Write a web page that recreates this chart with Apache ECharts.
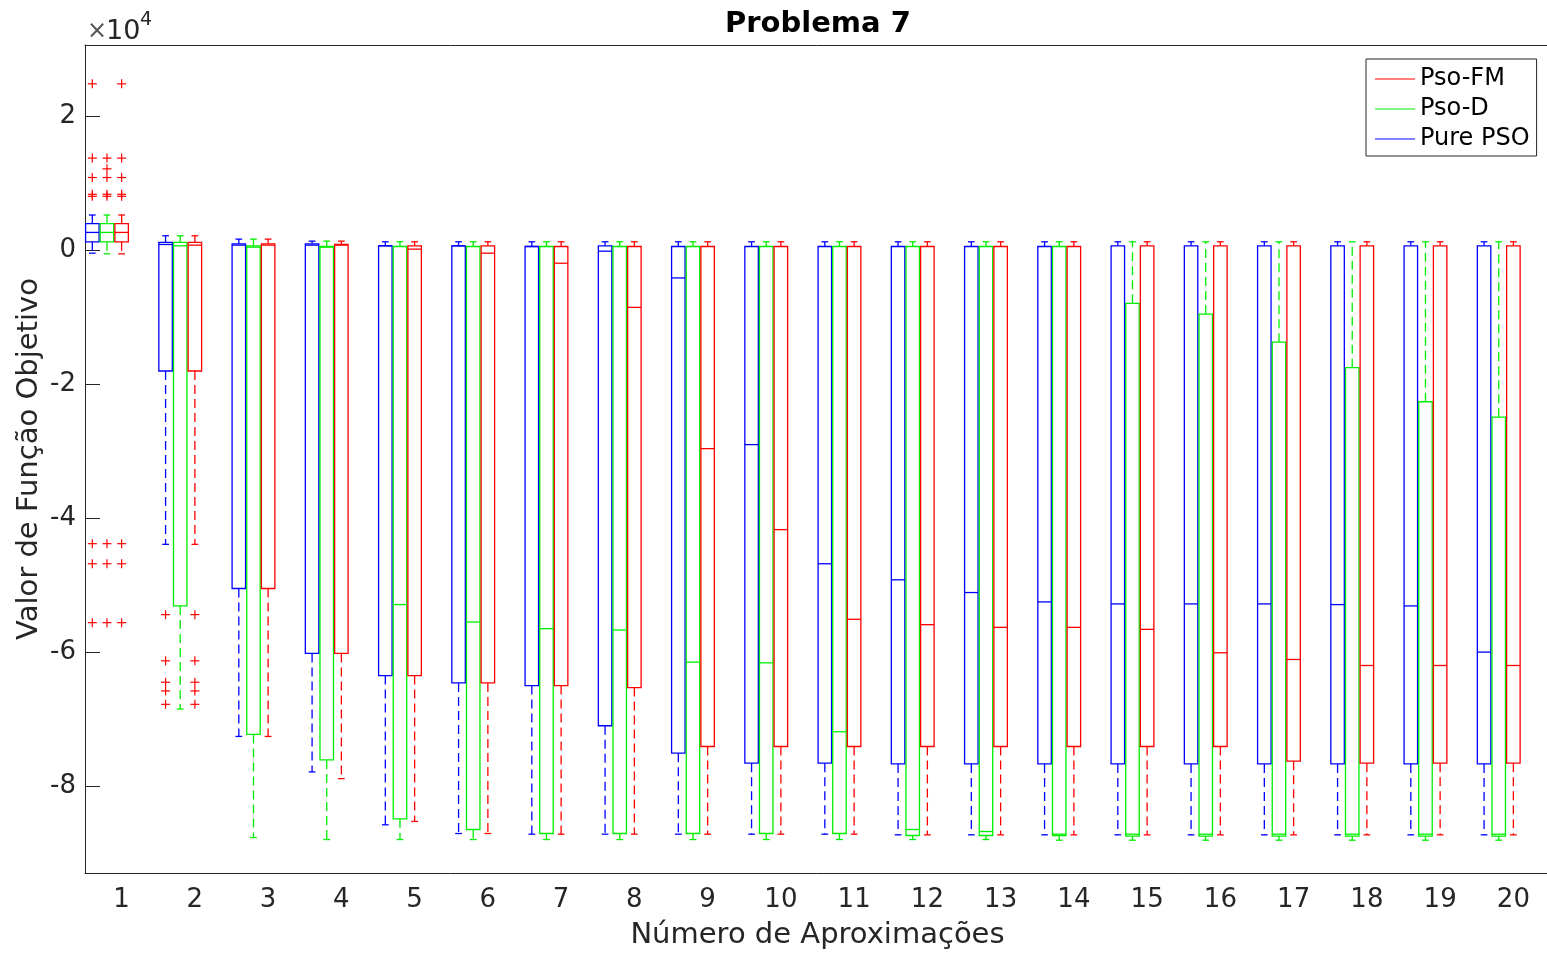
<!DOCTYPE html>
<html>
<head>
<meta charset="utf-8">
<title>Problema 7</title>
<script src="https://cdn.jsdelivr.net/npm/echarts@6.0.0/dist/echarts.min.js"></script>
<style>
  html, body { margin: 0; padding: 0; background: #fff; }
  #chart { width: 1547px; height: 954px; }
</style>
</head>
<body>
<div id="chart"></div>
<script>
const categories = ['1', '2', '3', '4', '5', '6', '7', '8', '9', '10',
  '11', '12', '13', '14', '15', '16', '17', '18', '19', '20'];
const yTicks = [-8, -6, -4, -2, 0, 2];

// valores em x10^4: [bigode inferior, Q1, mediana, Q3, bigode superior]
const purePso = [
  [-0.04, 0.13, 0.27, 0.40, 0.53],
  [-4.39, -1.80, 0.09, 0.12, 0.22],
  [-7.26, -5.05, 0.08, 0.10, 0.17],
  [-7.79, -6.02, 0.08, 0.10, 0.14],
  [-8.58, -6.35, 0.07, 0.07, 0.13],
  [-8.71, -6.46, 0.07, 0.07, 0.13],
  [-8.72, -6.50, 0.06, 0.06, 0.13],
  [-8.72, -7.10, -0.01, 0.07, 0.13],
  [-8.72, -7.51, -0.41, 0.06, 0.13],
  [-8.72, -7.66, -2.90, 0.06, 0.13],
  [-8.72, -7.66, -4.68, 0.06, 0.13],
  [-8.73, -7.67, -4.92, 0.06, 0.13],
  [-8.73, -7.67, -5.11, 0.06, 0.13],
  [-8.73, -7.67, -5.25, 0.06, 0.13],
  [-8.73, -7.67, -5.28, 0.07, 0.13],
  [-8.73, -7.67, -5.28, 0.07, 0.13],
  [-8.73, -7.67, -5.28, 0.07, 0.13],
  [-8.73, -7.67, -5.29, 0.07, 0.13],
  [-8.73, -7.67, -5.31, 0.07, 0.13],
  [-8.73, -7.67, -6.00, 0.07, 0.13]
];
const psoD = [
  [-0.05, 0.13, 0.27, 0.40, 0.53],
  [-6.85, -5.31, 0.07, 0.12, 0.22],
  [-8.77, -7.23, 0.05, 0.07, 0.17],
  [-8.80, -7.61, 0.05, 0.06, 0.14],
  [-8.80, -8.49, -5.29, 0.06, 0.13],
  [-8.80, -8.65, -5.55, 0.06, 0.13],
  [-8.80, -8.71, -5.65, 0.06, 0.13],
  [-8.80, -8.71, -5.67, 0.06, 0.13],
  [-8.80, -8.71, -6.15, 0.06, 0.13],
  [-8.80, -8.71, -6.16, 0.06, 0.13],
  [-8.80, -8.71, -7.19, 0.06, 0.13],
  [-8.80, -8.74, -8.65, 0.06, 0.13],
  [-8.80, -8.74, -8.68, 0.06, 0.13],
  [-8.81, -8.74, -8.72, 0.06, 0.13],
  [-8.81, -8.75, -8.72, -0.79, 0.13],
  [-8.81, -8.75, -8.72, -0.95, 0.13],
  [-8.81, -8.75, -8.72, -1.37, 0.13],
  [-8.81, -8.75, -8.72, -1.75, 0.13],
  [-8.81, -8.75, -8.72, -2.26, 0.13],
  [-8.81, -8.75, -8.72, -2.49, 0.13]
];
const psoFM = [
  [-0.05, 0.13, 0.27, 0.40, 0.53],
  [-4.39, -1.80, 0.08, 0.12, 0.22],
  [-7.26, -5.05, 0.08, 0.10, 0.17],
  [-7.89, -6.02, 0.08, 0.09, 0.14],
  [-8.53, -6.35, 0.02, 0.07, 0.13],
  [-8.71, -6.46, -0.04, 0.07, 0.13],
  [-8.72, -6.50, -0.19, 0.06, 0.13],
  [-8.72, -6.53, -0.85, 0.06, 0.13],
  [-8.72, -7.41, -2.96, 0.06, 0.13],
  [-8.72, -7.41, -4.17, 0.06, 0.13],
  [-8.72, -7.41, -5.51, 0.06, 0.13],
  [-8.73, -7.41, -5.59, 0.06, 0.13],
  [-8.73, -7.41, -5.63, 0.06, 0.13],
  [-8.73, -7.41, -5.63, 0.06, 0.13],
  [-8.73, -7.41, -5.66, 0.07, 0.13],
  [-8.73, -7.41, -6.01, 0.07, 0.13],
  [-8.73, -7.63, -6.11, 0.07, 0.13],
  [-8.73, -7.66, -6.20, 0.07, 0.13],
  [-8.73, -7.66, -6.20, 0.07, 0.13],
  [-8.73, -7.66, -6.20, 0.07, 0.13]
];

// outliers: [indice do grupo, valor]
const purePsoOut = [
  [0, 2.49], [0, 1.38], [0, 1.09], [0, 0.84], [0, 0.81], [0, -4.38], [0, -4.68], [0, -5.56],
  [1, -5.44], [1, -6.13], [1, -6.45], [1, -6.58], [1, -6.78]
];
const psoDOut = [
  [0, 1.38], [0, 1.22], [0, 1.09], [0, 0.84], [0, 0.81], [0, -4.38], [0, -4.68], [0, -5.56]
];
const psoFMOut = [
  [0, 2.49], [0, 1.38], [0, 1.09], [0, 0.84], [0, 0.81], [0, -4.38], [0, -4.68], [0, -5.56],
  [1, -5.44], [1, -6.13], [1, -6.45], [1, -6.58], [1, -6.78]
];

const FONT = 'DejaVu Sans';
const AXIS_COLOR = '#262626';

function boxRenderer(offset, color) {
  return function (params, api) {
    const idx = api.value(0);
    const band = api.size([1, 0])[0];
    const cx = api.coord([idx, 0])[0] + offset * band;
    const hw = band * 0.092;
    const cw = hw * 0.5;
    const yLo = api.coord([idx, api.value(1)])[1];
    const yQ1 = api.coord([idx, api.value(2)])[1];
    const yMed = api.coord([idx, api.value(3)])[1];
    const yQ3 = api.coord([idx, api.value(4)])[1];
    const yHi = api.coord([idx, api.value(5)])[1];
    const solid = { stroke: color, lineWidth: 1.3, fill: 'none' };
    const dashed = { stroke: color, lineWidth: 1.3, lineDash: [9, 5] };
    return {
      type: 'group',
      children: [
        { type: 'line', shape: { x1: cx, y1: yQ3, x2: cx, y2: yHi }, style: dashed },
        { type: 'line', shape: { x1: cx, y1: yQ1, x2: cx, y2: yLo }, style: dashed },
        { type: 'line', shape: { x1: cx - cw, y1: yHi, x2: cx + cw, y2: yHi }, style: solid },
        { type: 'line', shape: { x1: cx - cw, y1: yLo, x2: cx + cw, y2: yLo }, style: solid },
        { type: 'rect', shape: { x: cx - hw, y: yQ3, width: hw * 2, height: yQ1 - yQ3 }, style: solid },
        { type: 'line', shape: { x1: cx - hw, y1: yMed, x2: cx + hw, y2: yMed }, style: solid }
      ]
    };
  };
}

function outlierRenderer(offset) {
  return function (params, api) {
    const idx = api.value(0);
    const band = api.size([1, 0])[0];
    const p = api.coord([idx, api.value(1)]);
    const cx = p[0] + offset * band;
    const s = 4.5;
    const st = { stroke: '#ff0000', lineWidth: 1.2 };
    return {
      type: 'group',
      children: [
        { type: 'line', shape: { x1: cx - s, y1: p[1], x2: cx + s, y2: p[1] }, style: st },
        { type: 'line', shape: { x1: cx, y1: p[1] - s, x2: cx, y2: p[1] + s }, style: st }
      ]
    };
  };
}

function boxSeries(name, data, offset, color) {
  return {
    name: name,
    type: 'custom',
    renderItem: boxRenderer(offset, color),
    itemStyle: { color: color },
    encode: { x: 0, y: [1, 2, 3, 4, 5] },
    data: data.map((d, i) => [i].concat(d)),
    silent: true,
    animation: false
  };
}

function outlierSeries(data, offset) {
  return {
    name: 'outliers',
    type: 'custom',
    renderItem: outlierRenderer(offset),
    encode: { x: 0, y: 1 },
    data: data,
    silent: true,
    animation: false
  };
}

const chart = echarts.init(document.getElementById('chart'));
chart.setOption({
  backgroundColor: '#ffffff',
  animation: false,
  textStyle: { fontFamily: FONT },
  title: {
    text: 'Problema 7',
    left: 720,
    top: 5,
    textStyle: { fontFamily: FONT, fontSize: 29, fontWeight: 'bold', color: '#000' }
  },
  grid: { left: 85, right: -3, top: 45, bottom: 81, containLabel: false, outerBoundsMode: 'none' },
  legend: {
    orient: 'vertical',
    left: 1366,
    top: 59,
    data: ['Pso-FM', 'Pso-D', 'Pure PSO'],
    icon: 'rect',
    itemWidth: 40,
    itemHeight: 1,
    itemGap: 6,
    padding: [8, 7, 5, 9],
    borderColor: AXIS_COLOR,
    borderWidth: 1,
    backgroundColor: '#fff',
    textStyle: { fontFamily: FONT, fontSize: 24, lineHeight: 24, color: '#000', padding: [0, 0, 0, 0] }
  },
  graphic: [
    { type: 'text', left: 87, top: 20, style: { text: '×', fontFamily: FONT, fontSize: 24, fill: '#555' } },
    { type: 'text', left: 106, top: 18, style: { text: '10', fontFamily: FONT, fontSize: 27, fill: AXIS_COLOR } },
    { type: 'text', left: 140, top: 11, style: { text: '4', fontFamily: FONT, fontSize: 19, fill: AXIS_COLOR } }
  ],
  xAxis: [
    {
      type: 'category',
      data: categories,
      position: 'bottom',
      name: 'Número de Aproximações',
      nameLocation: 'middle',
      nameGap: 48,
      nameTextStyle: { fontFamily: FONT, fontSize: 29, color: AXIS_COLOR },
      axisLine: { onZero: false, lineStyle: { color: AXIS_COLOR, width: 1 } },
      axisTick: { inside: true, alignWithLabel: true, length: 15, lineStyle: { color: AXIS_COLOR } },
      axisLabel: { fontFamily: FONT, fontSize: 26, color: AXIS_COLOR, margin: 14, interval: 0 },
      splitLine: { show: false }
    },
    {
      type: 'category',
      data: categories,
      position: 'top',
      axisLine: { onZero: false, lineStyle: { color: AXIS_COLOR, width: 1 } },
      axisTick: { inside: true, alignWithLabel: true, length: 15, lineStyle: { color: AXIS_COLOR } },
      axisLabel: { show: false },
      splitLine: { show: false }
    }
  ],
  yAxis: {
    type: 'value',
    min: -9.3,
    max: 3.07,
    name: 'Valor de Função Objetivo',
    nameLocation: 'middle',
    nameRotate: 90,
    nameGap: 41,
    nameMoveOverlap: false,
    nameTextStyle: { fontFamily: FONT, fontSize: 29, color: AXIS_COLOR },
    axisLine: { show: true, onZero: false, lineStyle: { color: AXIS_COLOR, width: 1 } },
    axisTick: { show: true, inside: true, length: 15, customValues: yTicks, lineStyle: { color: AXIS_COLOR } },
    axisLabel: {
      fontFamily: FONT, fontSize: 26, color: AXIS_COLOR, margin: 9,
      customValues: yTicks,
      formatter: (v) => String(v)
    },
    splitLine: { show: false }
  },
  series: [
    boxSeries('Pure PSO', purePso, -0.4, '#0000ff'),
    boxSeries('Pso-D', psoD, -0.2, '#00ee00'),
    boxSeries('Pso-FM', psoFM, 0, '#ff0000'),
    outlierSeries(purePsoOut, -0.4),
    outlierSeries(psoDOut, -0.2),
    outlierSeries(psoFMOut, 0)
  ]
});
window.onresize = function () {
  chart.resize();
};
</script>
</body>
</html>
